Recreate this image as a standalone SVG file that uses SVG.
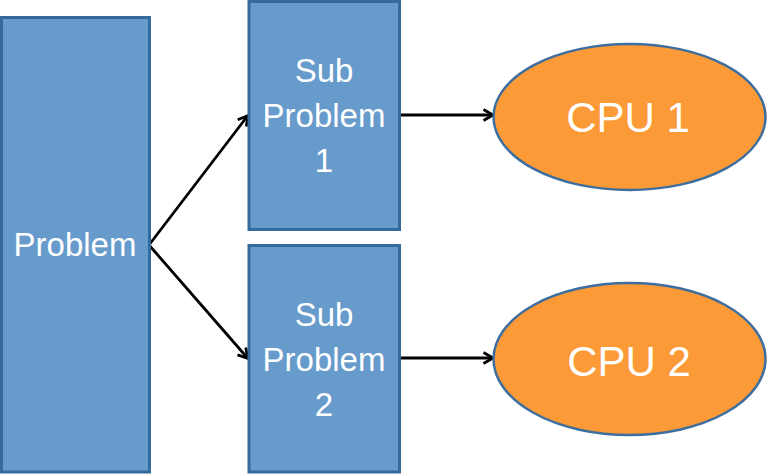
<svg xmlns="http://www.w3.org/2000/svg" width="767" height="475" viewBox="0 0 767 475">
<style>
.box{fill:#679BCC;stroke:#376A9C;stroke-width:3}
.cpu{fill:#FB9A36;stroke:#3E6E9E;stroke-width:2.5}
.lbl{font-family:"Liberation Sans",Arial,sans-serif;fill:#ffffff;text-anchor:middle}
.conn{stroke:#000;stroke-width:2.8;fill:none;marker-end:url(#arr)}
</style>
<defs>
<marker id="arr" markerUnits="userSpaceOnUse" markerWidth="14" markerHeight="14" refX="11" refY="7" orient="auto" viewBox="0 0 14 14">
<path d="M2,1.5 L11.5,7 L2,12.5" fill="none" stroke="#000" stroke-width="2.8"/>
</marker>
</defs>
<rect width="767" height="475" fill="#ffffff"/>
<g id="connectors">
<line class="conn" x1="149" y1="245" x2="247.5" y2="116"/>
<line class="conn" x1="149" y1="245" x2="247.5" y2="358"/>
<line class="conn" x1="400" y1="115" x2="492.5" y2="115"/>
<line class="conn" x1="400" y1="358" x2="492.5" y2="358"/>
</g>
<g id="problem">
<rect class="box" x="1.5" y="17.5" width="148" height="454.5"/>
<text class="lbl" x="75" y="256" font-size="33">Problem</text>
</g>
<g id="sub1">
<rect class="box" x="249" y="1.5" width="150.5" height="228"/>
<text class="lbl" x="324" y="82" font-size="33">Sub</text>
<text class="lbl" x="324" y="127" font-size="33">Problem</text>
<text class="lbl" x="324" y="172" font-size="33">1</text>
</g>
<g id="sub2">
<rect class="box" x="249" y="245.5" width="150.5" height="226.5"/>
<text class="lbl" x="324" y="326" font-size="33">Sub</text>
<text class="lbl" x="324" y="371" font-size="33">Problem</text>
<text class="lbl" x="324" y="416" font-size="33">2</text>
</g>
<g id="cpu1">
<ellipse class="cpu" cx="629.5" cy="117" rx="136" ry="73"/>
<text class="lbl" x="628" y="132" font-size="42">CPU 1</text>
</g>
<g id="cpu2">
<ellipse class="cpu" cx="629.5" cy="359" rx="136" ry="76"/>
<text class="lbl" x="629" y="376" font-size="42">CPU 2</text>
</g>
</svg>
